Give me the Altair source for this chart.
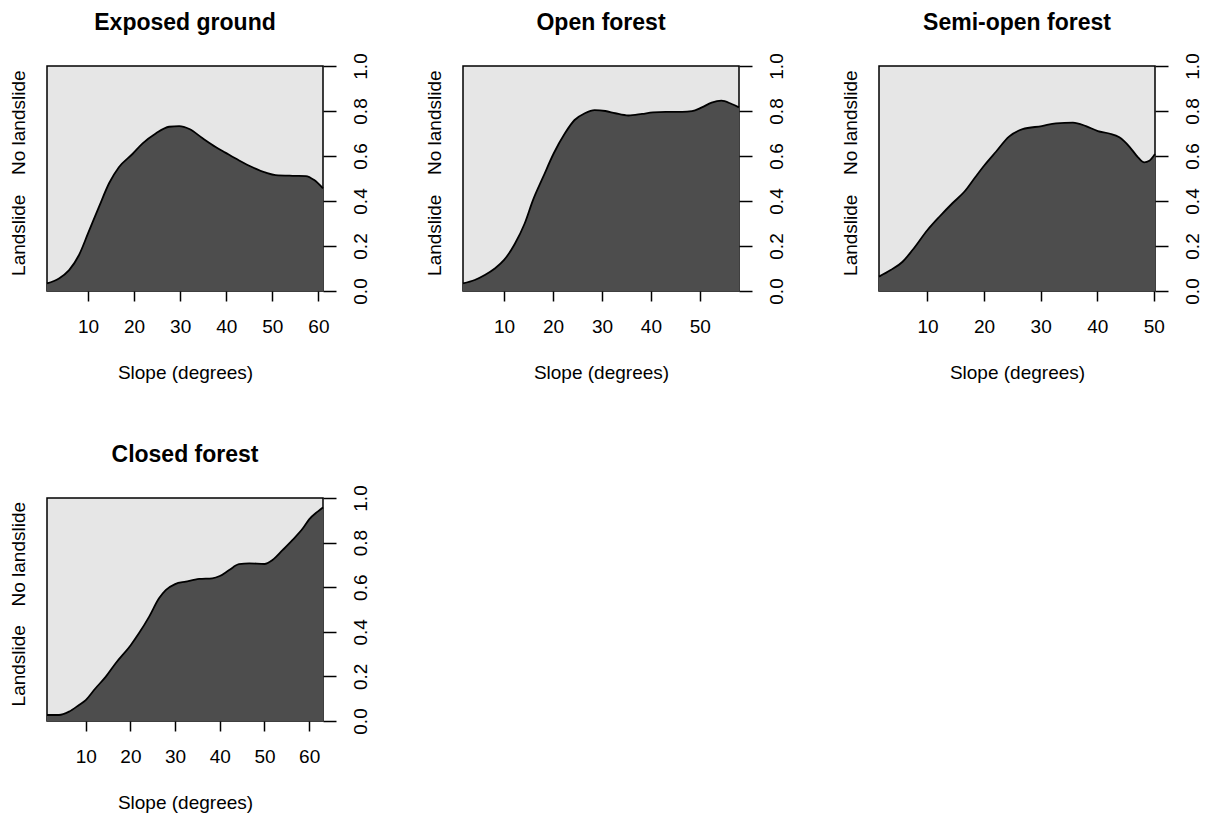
import altair as alt
import pandas as pd

FONT = "Liberation Sans"
DARK = "#4D4D4D"
LIGHT = "#E6E6E6"

panel_titles = ["Exposed ground", "Open forest", "Semi-open forest", "Closed forest"]
x_title = "Slope (degrees)"
side_labels = ["Landslide", "No landslide"]
side_label_pos = [0.25, 0.75]
y_ticks = [0.0, 0.2, 0.4, 0.6, 0.8, 1.0]
x_ticks_60 = [10, 20, 30, 40, 50, 60]
x_ticks_50 = [10, 20, 30, 40, 50]

# Exposed ground
eg_slope = [1.1, 3.7, 5.9, 8.05, 10.0, 12.4, 14.6, 16.7, 19.7, 21.8, 24.7, 27.6, 29.8,
            32.0, 34.8, 37.7, 39.8, 42.8, 45.7, 48.6, 50.7, 54.4, 57.3, 59.1, 61.0]
eg_prob = [0.034, 0.056, 0.093, 0.16, 0.256, 0.375, 0.48, 0.55, 0.61, 0.655, 0.70, 0.73, 0.733,
           0.72, 0.68, 0.64, 0.615, 0.58, 0.55, 0.526, 0.515, 0.512, 0.511, 0.493, 0.456]

# Open forest
of_slope = [1.6, 4.0, 6.06, 8.1, 10.0, 12.2, 14.2, 15.9, 18.0, 20.1, 22.4, 24.4, 26.5, 28.5,
            30.7, 32.7, 35.4, 38.2, 40.4, 43.0, 46.4, 48.4, 50.4, 52.4, 54.4, 56.5, 58.0]
of_prob = [0.034, 0.049, 0.071, 0.10, 0.138, 0.21, 0.30, 0.404, 0.508, 0.61, 0.70, 0.76, 0.79, 0.804,
           0.80, 0.79, 0.78, 0.787, 0.794, 0.796, 0.796, 0.799, 0.816, 0.837, 0.846, 0.831, 0.816]

# Semi-open forest
so_slope = [1.43, 3.5, 5.6, 7.35, 10.0, 12.1, 14.4, 16.5, 18.5, 20.1, 22.1, 24.4, 26.8, 30.2,
            32.7, 35.7, 38.0, 40.1, 42.1, 43.9, 45.7, 47.2, 48.3, 49.2, 50.2]
so_prob = [0.064, 0.093, 0.13, 0.182, 0.271, 0.33, 0.39, 0.441, 0.508, 0.56, 0.619, 0.686, 0.719, 0.733,
           0.745, 0.748, 0.733, 0.711, 0.70, 0.683, 0.641, 0.594, 0.572, 0.579, 0.609]

# Closed forest
cf_slope = [1.33, 4.0, 6.26, 8.5, 10.0, 12.2, 14.5, 16.7, 20.1, 21.9, 24.2, 26.4, 27.9, 30.0,
            32.4, 35.4, 38.3, 40.0, 42.1, 44.3, 46.6, 50.0, 51.8, 54.1, 56.3, 58.6, 60.0, 61.9, 63.1]
cf_prob = [0.027, 0.027, 0.042, 0.072, 0.094, 0.147, 0.199, 0.259, 0.341, 0.393, 0.468, 0.55, 0.587, 0.614,
           0.625, 0.637, 0.64, 0.65, 0.677, 0.703, 0.707, 0.704, 0.722, 0.767, 0.812, 0.864, 0.904, 0.939, 0.958]


def panel(title, slope, prob, ticks, height):
    df = pd.DataFrame({"slope": slope, "p": prob})
    x = alt.X(
        "slope:Q",
        scale=alt.Scale(domain=[slope[0], slope[-1]], nice=False, zero=False),
        axis=alt.Axis(values=ticks, title=x_title, tickSize=10, tickWidth=1.5,
                      labelPadding=16, titlePadding=27, labelFlush=False,
                      labelOverlap=False, labelAngle=0),
    )
    yscale = alt.Scale(domain=[0, 1], nice=False, zero=True)
    area = alt.Chart(df).mark_area(color=DARK, interpolate="monotone").encode(
        x=x,
        y=alt.Y("p:Q", scale=yscale,
                axis=alt.Axis(orient="right", values=y_ticks, format=".1f", title=None,
                              tickSize=13, tickWidth=1.5, labelAngle=270,
                              labelAlign="center", labelBaseline="top",
                              labelPadding=15, labelOverlap=False, labelFlush=False)),
    )
    expr = f"datum.value < 0.5 ? '{side_labels[0]}' : '{side_labels[1]}'"
    line = alt.Chart(df).mark_line(color="black", strokeWidth=1.8, interpolate="monotone").encode(
        x=x,
        y=alt.Y("p:Q", scale=yscale,
                axis=alt.Axis(orient="left", values=side_label_pos, labelExpr=expr, title=None,
                              ticks=False, tickSize=0, labelAngle=270,
                              labelAlign="center", labelBaseline="alphabetic",
                              labelPadding=23, labelOverlap=False, labelFlush=False)),
    )
    return alt.layer(area, line).resolve_axis(y="independent").properties(
        title=title, width=276, height=height
    )


p1 = panel(panel_titles[0], eg_slope, eg_prob, x_ticks_60, 225)
p2 = panel(panel_titles[1], of_slope, of_prob, x_ticks_50, 225)
p3 = panel(panel_titles[2], so_slope, so_prob, x_ticks_50, 225)
p4 = panel(panel_titles[3], cf_slope, cf_prob, x_ticks_60, 223)

chart = alt.concat(p1, p2, p3, p4, columns=3).properties(
    spacing={"row": 207, "column": 140},
    bounds="flush",
    padding={"left": 8, "top": 11, "right": 0, "bottom": 0},
    background="white",
).configure_view(
    fill=LIGHT, stroke="black", strokeWidth=1.5
).configure_axis(
    labelFont=FONT, titleFont=FONT, labelFontSize=19, titleFontSize=19,
    labelColor="black", titleColor="black", tickColor="black",
    domain=False, grid=False, titleFontWeight="normal",
).configure_title(
    font=FONT, fontSize=23, fontWeight="bold", color="black", anchor="middle", offset=18
)

chart.save("out.html", embed_options={"renderer": "svg", "actions": False})
